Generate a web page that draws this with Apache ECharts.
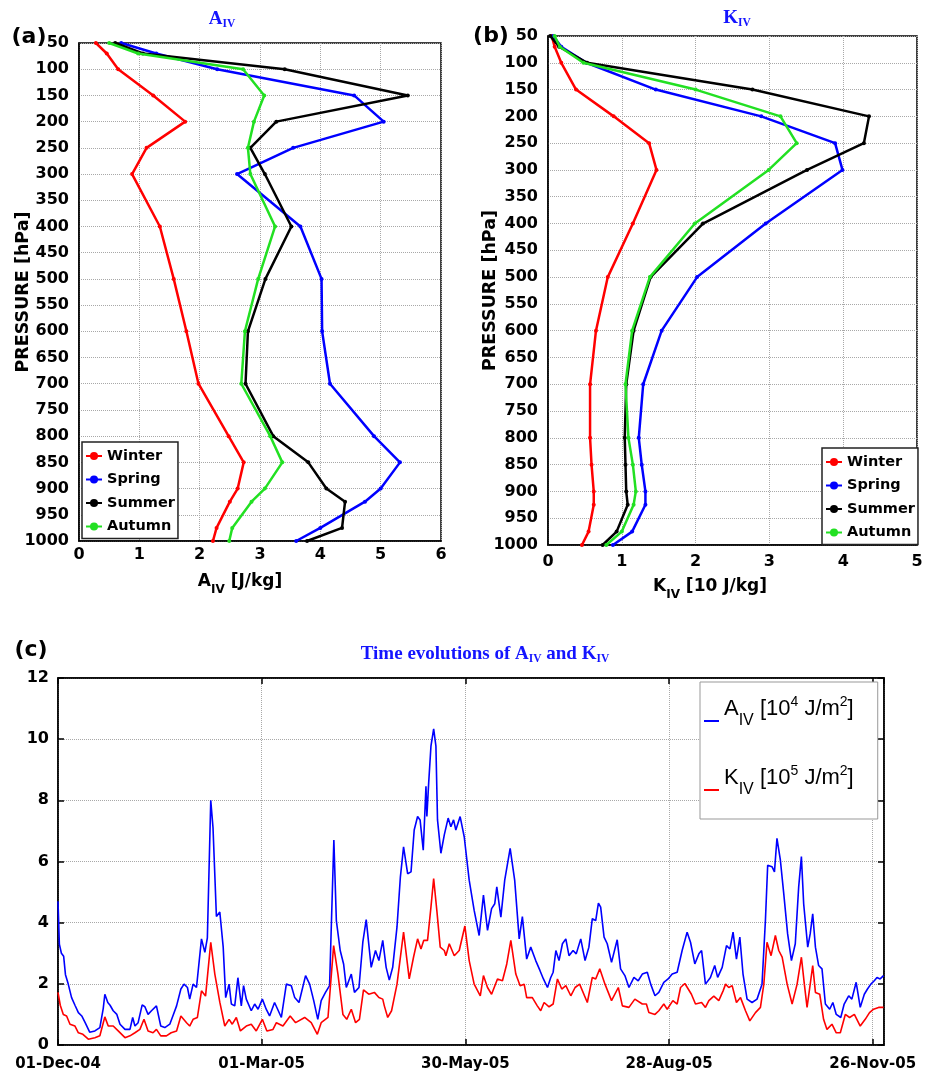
<!DOCTYPE html>
<html><head><meta charset="utf-8">
<script src="https://cdn.jsdelivr.net/npm/echarts@6/dist/echarts.min.js"></script>
<style>html,body{margin:0;padding:0;background:#fff}#c{width:930px;height:1077px}</style>
</head><body><div id="c"></div>
<script>
// ---------- Panel (a)/(b) data ----------
const pressure = [50,70,100,150,200,250,300,400,500,600,700,800,850,900,925,975,1000];
const seasons = ['Winter','Spring','Summer','Autumn'];
const aWinter = [0.28,0.46,0.65,1.23,1.76,1.12,0.88,1.34,1.57,1.78,1.98,2.48,2.73,2.63,2.5,2.28,2.22];
const aSpring = [0.7,1.28,2.29,4.56,5.05,3.55,2.62,3.67,4.02,4.03,4.16,4.89,5.32,5.0,4.74,4.0,3.6];
const aSummer = [0.6,1.06,3.41,5.45,3.27,2.84,3.08,3.52,3.09,2.8,2.76,3.22,3.8,4.1,4.41,4.36,3.78];
const aAutumn = [0.5,0.98,2.72,3.07,2.9,2.8,2.84,3.25,2.97,2.75,2.69,3.17,3.37,3.08,2.86,2.54,2.49];
const kWinter = [0.05,0.09,0.18,0.38,0.89,1.37,1.47,1.15,0.81,0.65,0.57,0.57,0.59,0.62,0.62,0.55,0.46];
const kSpring = [0.07,0.18,0.52,1.46,2.89,3.89,3.99,2.95,2.02,1.54,1.29,1.23,1.27,1.32,1.32,1.14,0.88];
const kSummer = [0.03,0.15,0.53,2.77,4.35,4.28,3.51,2.1,1.39,1.16,1.06,1.04,1.05,1.06,1.08,0.93,0.74];
const kAutumn = [0.09,0.16,0.48,2.0,3.15,3.37,2.99,1.99,1.38,1.14,1.05,1.09,1.15,1.19,1.16,1.0,0.79];

// ---------- Panel (c) data (day since 01-Dec-04, value) ----------
const dateLabels = ['01-Dec-04','01-Mar-05','30-May-05','28-Aug-05','26-Nov-05'];
const aDays = [0,0.6,1.5,2.5,3.3,4.5,6,7.5,9,10.5,12,14,16.3,18.5,20,20.7,22,23,24.4,26,27.4,29.6,31.8,33,34,35.4,37.2,38.4,39.8,41.3,43.5,45.4,47.2,49.4,51,52.4,54.3,55.7,57.2,58.2,59.7,61.2,63.4,64.9,66,67.5,68.5,70,71.5,73,74.1,75.6,76.6,78.1,79.5,81,82,83.2,85.4,86.9,88.4,90.3,92,93.5,95.7,98.7,100.9,103.1,104.6,106.5,109.4,111.2,113,114.8,116.3,118.2,120,121.9,123,124.7,126.2,127.4,129.6,131,133,134.7,136.2,138.4,140.3,141.8,143.5,145,146.4,147.9,149.8,151.3,152.7,154.5,156,157.4,158.9,160,161.4,162.6,163,163.8,164.8,166,167,167.7,169.2,170.7,172.4,173.6,174.8,175.8,177.7,179.5,181.7,183.9,186.1,188,189.8,191.6,193,193.9,195.7,197.4,199.8,201.8,203.8,205.2,207.1,208.9,211.1,213,214.5,216.3,217.7,218.8,220,221.4,222.9,224.4,225.8,227.6,229,231,232.9,234.6,236.1,237.6,238.8,239.8,241.3,242.7,244.6,247.1,248.6,250.5,252.3,254.5,256.4,258.2,260.4,261.9,263.8,265.5,267.7,269.6,271.4,273.6,275.8,278,279.5,281.4,283.2,284.4,286.1,288.3,290.2,291.5,293.5,295.4,296.9,298.3,299.8,301.3,302.7,304.5,306.7,308.9,311.1,312.6,313.6,315.5,316.6,317.7,319.2,320.7,322.4,324.1,325.8,327.3,328.5,329.5,331.3,332.4,333.5,334.7,336.1,337.6,339.1,341,342.4,343.9,345.9,347.4,349.4,350.8,352.7,354.5,356.3,357.7,359.2,360.7,361.9,363.3,364.8];
const aVals = [4.7,3.3,3.0,2.9,2.3,2.0,1.55,1.3,1.06,0.95,0.73,0.42,0.46,0.57,1.2,1.66,1.39,1.3,1.12,1.0,0.68,0.51,0.51,0.9,0.62,0.73,1.31,1.25,1.0,1.12,1.28,0.62,0.57,0.68,1.0,1.28,1.83,1.99,1.88,1.5,1.99,1.88,3.47,3.03,3.5,8.0,7.1,4.2,4.35,3.2,1.55,1.99,1.34,1.28,2.2,1.28,1.94,1.5,1.12,1.34,1.17,1.5,1.17,0.95,1.39,0.9,1.99,1.94,1.55,1.39,2.27,1.99,1.45,0.84,1.45,1.72,1.94,6.7,4.07,3.09,2.65,1.88,2.32,1.72,1.88,3.36,4.1,2.54,3.09,2.76,3.42,2.54,2.12,2.54,3.86,5.5,6.48,5.6,5.66,7.03,7.47,7.36,6.37,8.46,7.47,8.57,9.77,10.34,9.77,7.36,6.27,6.87,7.42,7.14,7.36,7.03,7.47,6.81,5.39,4.4,3.58,4.9,3.75,4.46,4.62,5.17,4.18,5.39,6.43,5.39,3.47,4.2,2.81,3.2,2.76,2.43,2.16,1.88,2.2,2.38,3.09,2.76,3.31,3.47,2.92,3.09,2.98,3.47,2.76,3.2,4.13,4.07,4.64,4.51,3.53,3.31,2.7,3.44,2.49,2.27,1.88,2.21,2.1,2.32,2.38,1.99,1.61,1.72,2.05,2.16,2.32,2.38,3.09,3.69,3.36,2.65,2.98,3.09,1.99,2.21,2.6,2.21,2.54,3.25,3.14,3.69,2.81,3.53,2.32,1.5,1.39,1.5,1.99,4.07,5.88,5.83,5.66,6.76,6.05,4.95,3.64,2.76,3.31,5.17,6.16,4.62,3.2,3.64,4.29,3.2,2.6,2.49,1.34,1.17,1.39,1.0,0.9,1.34,1.61,1.5,2.05,1.23,1.66,1.83,1.99,2.1,2.21,2.16,2.27];
const kDays = [0,1,2.35,3.8,5.3,7.5,9,11,13.4,16.3,18.5,20.7,22.2,24.4,26.6,29.6,31.8,34,36.2,38,39.8,42,43.5,45.4,47.9,50,52.4,54.3,56.8,58.2,59.7,61.6,63.4,65.2,67.5,69.3,71.5,73.7,75.6,77,78.8,80.6,83.2,85.4,87.6,90.3,92.3,95,96.5,99.4,102.6,105,109,111.9,114.6,116.3,119.3,121.8,123.7,125.9,127.6,129.6,131.5,133.2,135,137.3,139.8,141.8,143.5,144.2,145.7,147.4,149.8,152.7,155.2,157.1,158.9,160.4,161.6,163.3,164.8,166,167.4,168.9,170.7,171.4,172.9,175.1,177.3,179.8,181.7,183.9,186.6,188,189.8,191.6,194.2,196.4,198.3,200.1,202.3,204.2,206,207.1,209.6,211.8,213.3,214.8,217,218.8,220.7,222.6,224.4,226.6,228.5,230.5,233.9,236.1,237.6,239.4,241.7,244.6,247.6,249.4,252.3,254.9,258.2,260,261.1,263.8,265.5,267.7,269.2,271.7,273.6,275.1,277,279.9,281.7,284.4,286.1,287.6,289.8,292,293.9,295,296.4,297.9,299.8,301.6,303.8,305.7,308.2,310.4,311.9,313.3,315.1,317,318.5,320,322.2,324.4,326.6,328.5,329.8,331,332.4,333.5,334.7,336.6,338.3,339.8,342,343.9,345.7,347.9,349.8,351.9,354.5,356.7,358.6,360.4,362.6,364.8];
const kVals = [1.72,1.3,1.0,0.95,0.68,0.62,0.4,0.35,0.19,0.24,0.3,0.92,0.62,0.62,0.46,0.24,0.3,0.4,0.51,0.84,0.46,0.4,0.51,0.3,0.3,0.4,0.46,0.95,0.73,0.62,0.84,0.9,1.77,1.6,3.36,2.32,1.4,0.62,0.84,0.68,0.9,0.46,0.62,0.68,0.46,0.84,0.46,0.51,0.73,0.62,0.95,0.73,0.9,0.73,0.35,0.73,0.9,3.25,2.32,1.0,0.84,1.17,0.73,0.84,1.8,1.66,1.72,1.55,1.5,1.28,0.9,1.12,1.99,3.69,2.16,2.87,3.47,3.14,3.42,3.42,4.51,5.44,4.4,3.2,3.09,2.92,3.31,2.92,3.09,3.89,2.76,1.99,1.61,2.27,1.88,1.66,2.16,2.1,2.65,3.42,2.32,1.94,1.99,1.55,1.55,1.28,1.12,1.39,1.25,1.34,2.16,1.83,1.94,1.61,1.88,1.99,1.39,2.21,2.16,2.49,1.99,1.45,1.88,1.28,1.23,1.5,1.34,1.34,1.06,1.0,1.12,1.34,1.17,1.45,1.34,1.88,2.01,1.66,1.34,1.39,1.23,1.45,1.6,1.45,1.77,1.99,1.88,1.94,1.39,1.55,1.12,0.79,1.06,1.23,1.99,3.36,2.92,3.58,3.09,2.87,1.99,1.34,1.99,2.87,1.99,1.23,1.99,2.6,1.72,1.66,0.84,0.51,0.68,0.4,0.4,1.0,0.9,1.0,0.62,0.84,1.06,1.17,1.23,1.23];

// ---------- styles ----------
const seasonColor = {Winter:'#ff0000', Spring:'#0000ff', Summer:'#000000', Autumn:'#22e022'};
const BOLD = {fontFamily:'DejaVu Sans', fontWeight:'bold', color:'#000'};
const gridLine = {show:true, lineStyle:{color:'#a8a8a8', type:'dotted', width:1}};
const frameLine = {show:true, onZero:false, lineStyle:{color:'#000', width:1.5}};

function profileSeries(arrs, xi){
  return seasons.map((s,i)=>({
    name:s, type:'line', xAxisIndex:xi, yAxisIndex:xi,
    data: pressure.map((p,j)=>[arrs[i][j], p]),
    symbol:'circle', symbolSize:4, showSymbol:true,
    lineStyle:{width:2.5, color:seasonColor[s]}, itemStyle:{color:seasonColor[s]},
    z: 2+i
  }));
}
const axisNameRich = {
  m:Object.assign({fontSize:17, lineHeight:20, height:20, verticalAlign:'top'}, BOLD),
  s:Object.assign({fontSize:12, lineHeight:35, height:35, verticalAlign:'top'}, BOLD)
};
function profileX(gi, max, name, labelMargin, nameGap, shiftPad){
  return {gridIndex:gi, type:'value', min:0, max:max, interval:1,
    axisLine:frameLine, axisTick:{show:false}, splitLine:gridLine,
    axisLabel:Object.assign({fontSize:16, margin:labelMargin}, BOLD),
    name:name, nameLocation:'middle', nameGap:nameGap, nameMoveOverlap:false,
    nameTextStyle:{rich:axisNameRich, padding:[0,shiftPad,0,0]}};
}
function profileY(gi, nameGap){
  return {gridIndex:gi, type:'value', inverse:true, min:50, max:1000, interval:50,
    axisLine:frameLine, axisTick:{show:false}, splitLine:gridLine,
    axisLabel:Object.assign({fontSize:16, margin:10, formatter:v=>String(v)}, BOLD),
    name:'PRESSURE [hPa]', nameLocation:'middle', nameRotate:90, nameGap:nameGap, nameMoveOverlap:false,
    nameTextStyle:Object.assign({fontSize:17.5}, BOLD)};
}
function seasonLegend(left, top){
  return {left:left, top:top, orient:'vertical', data:seasons,
    itemWidth:16, itemHeight:10, itemGap:5.5, padding:[5,3,3,3],
    borderColor:'#222', borderWidth:1.5, backgroundColor:'#fff',
    textStyle:Object.assign({fontSize:14.5, lineHeight:18}, BOLD)};
}
const titleRich = {
  m:{fontFamily:'Liberation Serif', fontWeight:'bold', fontSize:19, lineHeight:20, height:20, verticalAlign:'top', fill:'#1414ff', color:'#1414ff'},
  s:{fontFamily:'Liberation Serif', fontWeight:'bold', fontSize:11.5, lineHeight:29, height:29, verticalAlign:'top', fill:'#1414ff', color:'#1414ff'}
};
const legRich = {
  m:{fontFamily:'Liberation Sans', fontSize:22, lineHeight:22, height:22, verticalAlign:'top', color:'#000'},
  s:{fontFamily:'Liberation Sans', fontSize:16, lineHeight:46, height:46, verticalAlign:'top', color:'#000'},
  p:{fontFamily:'Liberation Sans', fontSize:14, lineHeight:8, height:8, verticalAlign:'top', color:'#000'}
};

const chart = echarts.init(document.getElementById('c'), null, {renderer:'canvas'});
chart.setOption({
  animation:false,
  backgroundColor:'#fff',
  grid:[
    {left:79, top:43, width:362, height:498, show:true, borderColor:'#000', borderWidth:1.5, backgroundColor:'#fff'},
    {left:548, top:36, width:369, height:509, show:true, borderColor:'#000', borderWidth:1.5, backgroundColor:'#fff'},
    {left:58, top:678, width:826, height:367, show:true, borderColor:'#000', borderWidth:1.5, backgroundColor:'#fff'}
  ],
  xAxis:[
    profileX(0, 6, '{m|A}{s|IV}{m| [J/kg]}', 6, 31, 40),
    profileX(1, 5, '{m|K}{s|IV}{m| [10 J/kg]}', 9, 32, 45),
    {gridIndex:2, type:'value', min:0, max:365, interval:90,
      axisLine:frameLine, axisTick:{show:true, inside:true, length:6, lineStyle:{color:'#000', width:1.5}},
      splitLine:gridLine,
      axisLabel:Object.assign({fontSize:15, margin:12, showMaxLabel:false,
        formatter:v=> (v%90===0 && dateLabels[v/90]) ? dateLabels[v/90] : ''}, BOLD)},
    {gridIndex:2, type:'value', position:'top', min:0, max:365, interval:90,
      axisLine:frameLine, axisTick:{show:true, inside:true, length:6, lineStyle:{color:'#000', width:1.5}},
      splitLine:{show:false}, axisLabel:{show:false}}
  ],
  yAxis:[
    profileY(0, 47),
    profileY(1, 49),
    {gridIndex:2, type:'value', min:0, max:12, interval:2,
      axisLine:frameLine, axisTick:{show:true, inside:true, length:6, lineStyle:{color:'#000', width:1.5}},
      splitLine:gridLine, axisLabel:Object.assign({fontSize:16, margin:9}, BOLD)},
    {gridIndex:2, type:'value', position:'right', min:0, max:12, interval:2,
      axisLine:frameLine, axisTick:{show:true, inside:true, length:6, lineStyle:{color:'#000', width:1.5}},
      splitLine:{show:false}, axisLabel:{show:false}}
  ],
  legend:[
    seasonLegend(82, 442),
    seasonLegend(822, 448),
    {left:700, top:682, orient:'vertical', data:['AIV','KIV'],
      icon:'rect', itemWidth:15, itemHeight:2, itemGap:20, padding:[13,24,6,4],
      borderColor:'#999', borderWidth:1, backgroundColor:'#fff',
      formatter:n=> n==='AIV' ? '{m|A}{s|IV}{m| [10}{p|4}{m| J/m}{p|2}{m|]}' : '{m|K}{s|IV}{m| [10}{p|5}{m| J/m}{p|2}{m|]}',
      textStyle:{rich:legRich}}
  ],
  graphic:[
    {type:'text', x:29, y:37, style:{text:'(a)', font:'bold 22px "DejaVu Sans"', fill:'#000', align:'center', verticalAlign:'middle'}},
    {type:'text', x:491, y:36, style:{text:'(b)', font:'bold 22px "DejaVu Sans"', fill:'#000', align:'center', verticalAlign:'middle'}},
    {type:'text', x:31, y:650, style:{text:'(c)', font:'bold 22px "DejaVu Sans"', fill:'#000', align:'center', verticalAlign:'middle'}},
    {type:'text', x:222, y:24, style:{text:'{m|A}{s|IV}', rich:titleRich, align:'center', verticalAlign:'middle'}},
    {type:'text', x:737, y:23, style:{text:'{m|K}{s|IV}', rich:titleRich, align:'center', verticalAlign:'middle'}},
    {type:'text', x:485, y:659, style:{text:'{m|Time evolutions of A}{s|IV}{m| and K}{s|IV}', rich:titleRich, align:'center', verticalAlign:'middle'}}
  ],
  series:[
    ...profileSeries([aWinter,aSpring,aSummer,aAutumn], 0),
    ...profileSeries([kWinter,kSpring,kSummer,kAutumn], 1),
    {name:'AIV', type:'line', xAxisIndex:2, yAxisIndex:2, showSymbol:false, symbol:'none',
      data:aDays.map((d,i)=>[d, aVals[i]]), lineStyle:{width:1.6, color:'#0000ff'}, itemStyle:{color:'#0000ff'}},
    {name:'KIV', type:'line', xAxisIndex:2, yAxisIndex:2, showSymbol:false, symbol:'none',
      data:kDays.map((d,i)=>[d, kVals[i]]), lineStyle:{width:1.6, color:'#ff0000'}, itemStyle:{color:'#ff0000'}}
  ]
});
</script></body></html>
